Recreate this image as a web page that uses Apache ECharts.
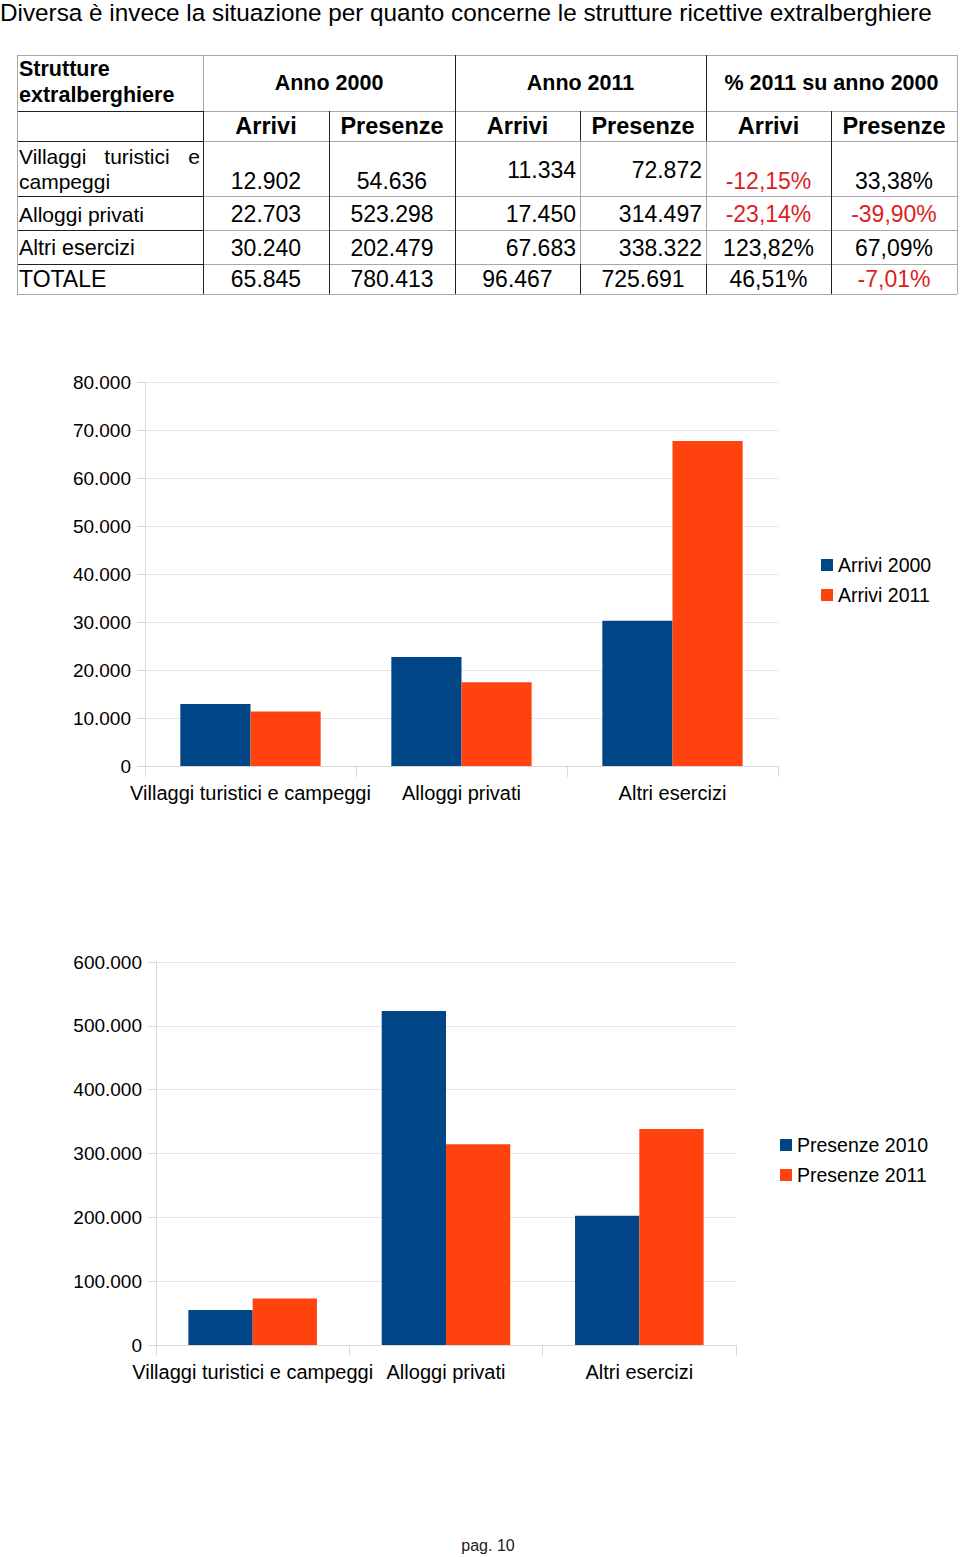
<!DOCTYPE html>
<html>
<head>
<meta charset="utf-8">
<script src="https://cdn.jsdelivr.net/npm/echarts@6/dist/echarts.min.js"></script>
<style>
html,body{margin:0;padding:0;background:#fff;}
#main{width:960px;height:1557px;}
</style>
</head>
<body>
<div id="main"></div>
<script>
// ---------- data ----------
const pageTitle = 'Diversa è invece la situazione per quanto concerne le strutture ricettive extralberghiere';
const footerText = 'pag. 10';
const categories = ['Villaggi turistici e campeggi', 'Alloggi privati', 'Altri esercizi'];
const arrivi2000 = [12902, 22703, 30240];
const arrivi2011 = [11334, 17450, 67683];
const presenze2000 = [54636, 523298, 202479];
const presenze2011 = [72872, 314497, 338322];
const seriesNames1 = ['Arrivi 2000', 'Arrivi 2011'];
const seriesNames2 = ['Presenze 2010', 'Presenze 2011'];
const colors = ['#004586', '#ff420e'];

// table
const tableHeadGroups = ['Anno 2000', 'Anno 2011', '% 2011 su anno 2000'];
const tableSubHeads = ['Arrivi', 'Presenze', 'Arrivi', 'Presenze', 'Arrivi', 'Presenze'];
const tableRowLabels = ['Villaggi turistici e campeggi', 'Alloggi privati', 'Altri esercizi', 'TOTALE'];
const tableValues = [
  ['12.902', '54.636', '11.334', '72.872', '-12,15%', '33,38%'],
  ['22.703', '523.298', '17.450', '314.497', '-23,14%', '-39,90%'],
  ['30.240', '202.479', '67.683', '338.322', '123,82%', '67,09%'],
  ['65.845', '780.413', '96.467', '725.691', '46,51%', '-7,01%']
];

// ---------- layout ----------
const FONT = '"Liberation Sans", Arial, sans-serif';
const colX = [17, 203, 329, 455, 580, 706, 831, 957];
const rowY = [55, 111, 141, 196, 230, 264, 294];
const RED = '#dd1f1f';

function fmt(v) {
  return String(v).replace(/\B(?=(\d{3})+(?!\d))/g, '.');
}

const graphics = [];
function txt(s, x, y, size, opts) {
  opts = opts || {};
  graphics.push({
    type: 'text', silent: true,
    style: {
      text: s, x: x, y: y,
      font: (opts.bold ? 'bold ' : '') + size + 'px ' + FONT,
      fill: opts.color || '#000',
      align: opts.align || 'left', textAlign: opts.align || 'left',
      verticalAlign: 'middle', textVerticalAlign: 'middle'
    }
  });
}
function ln(x1, y1, x2, y2, color) {
  graphics.push({
    type: 'line', silent: true,
    shape: { x1: x1, y1: y1, x2: x2, y2: y2 },
    style: { stroke: color, lineWidth: 1 }
  });
}

// title
txt(pageTitle, 0, 12, 24.3);
// footer
txt(footerText, 488, 1545, 16, { align: 'center', color: '#222' });

// table lines
const GRAY = '#a8a8a8', DARK = '#222';
ln(colX[0], rowY[0] + 0.5, colX[7], rowY[0] + 0.5, GRAY);
for (let r = 1; r < rowY.length - 1; r++) {
  ln(colX[0], rowY[r] + 0.5, colX[1], rowY[r] + 0.5, DARK);
  ln(colX[1], rowY[r] + 0.5, colX[7], rowY[r] + 0.5, GRAY);
}
ln(colX[0], rowY[6] + 0.5, colX[7], rowY[6] + 0.5, GRAY);
ln(colX[0] + 0.5, rowY[0], colX[0] + 0.5, rowY[6], GRAY);
ln(colX[1] + 0.5, rowY[0], colX[1] + 0.5, rowY[1], GRAY);
ln(colX[1] + 0.5, rowY[1], colX[1] + 0.5, rowY[6], DARK);
ln(colX[2] + 0.5, rowY[1], colX[2] + 0.5, rowY[6], DARK);
ln(colX[3] + 0.5, rowY[0], colX[3] + 0.5, rowY[6], DARK);
ln(colX[4] + 0.5, rowY[1], colX[4] + 0.5, rowY[2], DARK);
ln(colX[4] + 0.5, rowY[2], colX[4] + 0.5, rowY[5], GRAY);
ln(colX[4] + 0.5, rowY[5], colX[4] + 0.5, rowY[6], DARK);
ln(colX[5] + 0.5, rowY[0], colX[5] + 0.5, rowY[2], DARK);
ln(colX[5] + 0.5, rowY[2], colX[5] + 0.5, rowY[5], GRAY);
ln(colX[5] + 0.5, rowY[5], colX[5] + 0.5, rowY[6], DARK);
ln(colX[6] + 0.5, rowY[1], colX[6] + 0.5, rowY[6], DARK);
ln(colX[7] + 0.5, rowY[0], colX[7] + 0.5, rowY[6], GRAY);

// table header
txt('Strutture', 19, 69, 21.5, { bold: true });
txt('extralberghiere', 19, 95, 21.5, { bold: true });
for (let g = 0; g < 3; g++) {
  txt(tableHeadGroups[g], (colX[1 + 2 * g] + colX[3 + 2 * g]) / 2, 83, 21.5, { bold: true, align: 'center' });
}
for (let c = 0; c < 6; c++) {
  txt(tableSubHeads[c], (colX[1 + c] + colX[2 + c]) / 2, 126, 23.5, { bold: true, align: 'center' });
}
// table rows
const rowCenters = [181, 214, 248, 279];
txt('Villaggi', 19, 156, 21);
txt('turistici', 137, 156, 21, { align: 'center' });
txt('e', 200, 156, 21, { align: 'right' });
txt('campeggi', 19, 181, 21);
txt(tableRowLabels[1], 19, rowCenters[1], 21);
txt(tableRowLabels[2], 19, rowCenters[2], 21.5);
txt(tableRowLabels[3], 19, rowCenters[3], 23);
for (let r = 0; r < 4; r++) {
  for (let c = 0; c < 6; c++) {
    const s = tableValues[r][c];
    const isRed = c >= 4 && s.charAt(0) === '-';
    const color = isRed ? RED : '#000';
    let y = rowCenters[r];
    if (r === 0 && (c === 2 || c === 3)) y = 170;
    if ((c === 2 || c === 3) && r < 3) {
      txt(s, colX[2 + c] - 4, y, 23, { align: 'right', color: color });
    } else {
      txt(s, (colX[1 + c] + colX[2 + c]) / 2, y, 23, { align: 'center', color: color });
    }
  }
}

// ---------- charts ----------
const axisLabelStyle = { color: '#000', fontSize: 19, fontFamily: FONT };

function yAxis(gridIndex, max, interval) {
  return {
    type: 'value', gridIndex: gridIndex, min: 0, max: max, interval: interval,
    axisLine: { show: true, lineStyle: { color: '#d9d9d9' } },
    axisTick: { show: true, length: 8, lineStyle: { color: '#d9d9d9' } },
    splitLine: { show: true, lineStyle: { color: '#e6e6e6' } },
    axisLabel: Object.assign({ margin: 14, formatter: fmt }, axisLabelStyle)
  };
}
function xAxis(gridIndex) {
  return {
    type: 'category', gridIndex: gridIndex, data: categories,
    axisLine: { show: true, lineStyle: { color: '#d9d9d9' } },
    axisTick: { show: true, length: 11, lineStyle: { color: '#d9d9d9' } },
    axisLabel: { color: '#000', fontSize: 20, fontFamily: FONT, margin: 17, interval: 0 }
  };
}
function bar(name, data, idx, color) {
  return {
    type: 'bar', name: name, data: data, xAxisIndex: idx, yAxisIndex: idx,
    barGap: '0%', barCategoryGap: '33.5%',
    itemStyle: { color: color }, silent: true, animation: false
  };
}
const legendText = { color: '#000', fontSize: 19.5, fontFamily: FONT };

const option = {
  animation: false,
  backgroundColor: '#fff',
  grid: [
    { left: 145, top: 382, width: 633, height: 384 },
    { left: 156, top: 962, width: 580, height: 383 }
  ],
  xAxis: [xAxis(0), xAxis(1)],
  yAxis: [yAxis(0, 80000, 10000), yAxis(1, 600000, 100000)],
  legend: [
    { data: seriesNames1, orient: 'vertical', left: 821, top: 555, padding: 0, icon: 'rect',
      itemWidth: 12, itemHeight: 12, itemGap: 10, textStyle: legendText, selectedMode: false },
    { data: seriesNames2, orient: 'vertical', left: 780, top: 1135, padding: 0, icon: 'rect',
      itemWidth: 12, itemHeight: 12, itemGap: 10, textStyle: legendText, selectedMode: false }
  ],
  series: [
    bar(seriesNames1[0], arrivi2000, 0, colors[0]),
    bar(seriesNames1[1], arrivi2011, 0, colors[1]),
    bar(seriesNames2[0], presenze2000, 1, colors[0]),
    bar(seriesNames2[1], presenze2011, 1, colors[1])
  ],
  graphic: { elements: graphics }
};

const chart = echarts.init(document.getElementById('main'), null, { renderer: 'svg', width: 960, height: 1557 });
chart.setOption(option);
</script>
</body>
</html>
